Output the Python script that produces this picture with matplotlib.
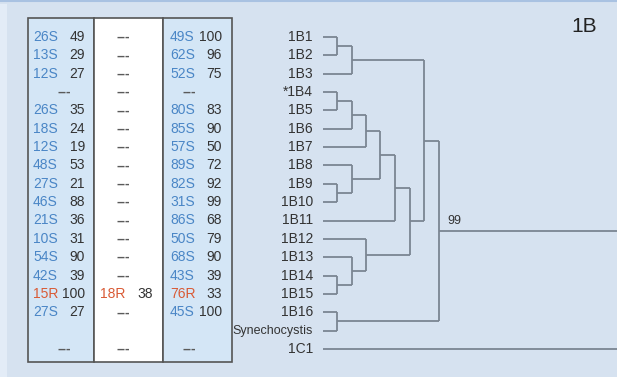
import matplotlib
matplotlib.use("Agg")
import matplotlib.pyplot as plt
from matplotlib.patches import Rectangle
from matplotlib import transforms, font_manager

plt.rcParams['font.family'] = ['Liberation Sans', 'DejaVu Sans']

# leaves of the tree, top to bottom
leaves = ['1B1', '1B2', '1B3', '*1B4', '1B5', '1B6', '1B7', '1B8', '1B9',
          '1B10', '1B11', '1B12', '1B13', '1B14', '1B15', '1B16',
          'Synechocystis', '1C1']

# merges: name -> (left, right, height); ints are leaf indices
merges = {
    'A': (0, 1, 14),
    'B': ('A', 2, 29),
    'C': (3, 4, 14),
    'D': ('C', 5, 29),
    'E': ('D', 6, 43),
    'F': (8, 9, 14),
    'G': (7, 'F', 29),
    'H': ('E', 'G', 57),
    'I': ('H', 10, 72),
    'J': (13, 14, 14),
    'K': (12, 'J', 29),
    'L': (11, 'K', 43),
    'M': ('I', 'L', 87),
    'N': ('B', 'M', 101),
    'O': (15, 16, 14),
    'P': ('N', 'O', 116),
    'Q': ('P', 17, 400),
}
root = 'Q'
support = {'P': '99'}

# table columns, one entry per leaf row
col1_labels = ['26S', '13S', '12S', '---', '26S', '18S', '12S', '48S', '27S',
               '46S', '21S', '10S', '54S', '42S', '15R', '27S', '', '---']
col1_values = [49, 29, 27, None, 35, 24, 19, 53, 21, 88, 36, 31, 90, 39, 100,
               27, None, None]
col2_labels = ['---'] * 14 + ['18R', '---', '', '---']
col2_values = [None] * 14 + [38, None, None, None]
col3_labels = ['49S', '62S', '52S', '---', '80S', '85S', '57S', '89S', '82S',
               '31S', '86S', '50S', '68S', '43S', '76R', '45S', '', '---']
col3_values = [100, 96, 75, None, 83, 90, 50, 72, 92, 99, 68, 79, 90, 39, 33,
               100, None, None]

W, H = 617, 377
bg = '#d6e2f0'
line_col = '#7b8592'
txt_col = '#333333'
blue = '#4a86c6'
red = '#d95a35'

fig = plt.figure(figsize=(W / 100, H / 100), dpi=100, facecolor=bg)

# pixel layout axes
ax_t = fig.add_axes([0, 0, 1, 1])
ax_t.set_xlim(0, W)
ax_t.set_ylim(H, 0)
ax_t.axis('off')
ax_t.add_patch(Rectangle((0, 4), 7, H, color='#e3ecf7', lw=0))
ax_t.plot([0, W], [0.5, 0.5], color='#a9c2e2', lw=1.5)

# dendrogram axes: x = height, y = leaf index
x0, y0, dy = 323, 37, 18.35
ax_d = fig.add_axes([0, 0, 1, 1])
ax_d.set_xlim(-x0, W - x0)
ax_d.set_ylim((H - y0) / dy, -y0 / dy)
ax_d.axis('off')
ax_d.patch.set_alpha(0)


def draw(node):
    if isinstance(node, int):
        return node, 0
    left, right, h = merges[node]
    yl, hl = draw(left)
    yr, hr = draw(right)
    ax_d.plot([hl, h], [yl, yl], color=line_col, lw=1.3, solid_capstyle='butt')
    ax_d.plot([hr, h], [yr, yr], color=line_col, lw=1.3, solid_capstyle='butt')
    ax_d.plot([h, h], [yl, yr], color=line_col, lw=1.3, solid_capstyle='butt')
    ym = (yl + yr) / 2
    if node in support:
        ax_d.annotate(support[node], (h, ym), xytext=(6, 3),
                      textcoords='offset points', fontsize=9, color=txt_col,
                      ha='left', va='bottom')
    return ym, h


draw(root)

try:
    font_manager.findfont(font_manager.FontProperties(family='Liberation Sans Narrow'),
                          fallback_to_default=False)
    narrow = 'Liberation Sans Narrow'
except Exception:
    narrow = None

for i, name in enumerate(leaves):
    kw = dict(fontsize=10)
    if name == 'Synechocystis':
        if narrow:
            kw['family'] = narrow
        else:
            kw['fontsize'] = 9
    ax_d.text(-10, i, name, ha='right', va='center', color=txt_col, **kw)

# table
top, bottom = 18, 362
cols = [(28, 94, '#d4e6f6'), (94, 163, 'white'), (163, 232, '#d4e6f6')]
for a, b, c in cols:
    ax_t.add_patch(Rectangle((a, top), b - a, bottom - top, facecolor=c,
                             edgecolor='#555555', lw=1.2))

tr = transforms.blended_transform_factory(ax_t.transData, ax_d.transData)
specs = [
    (col1_labels, col1_values, 33, 85, 64.5),
    (col2_labels, col2_values, 100, 153, 123.5),
    (col3_labels, col3_values, 170, 222, 189),
]
for labels, values, lx, vx, dx in specs:
    for i, (lab, val) in enumerate(zip(labels, values)):
        if lab == '---':
            ax_t.text(dx, i, '---', transform=tr, ha='center', va='center',
                      fontsize=10, fontweight='bold', color='#5a5a5a')
        elif lab:
            c = red if lab.endswith('R') else blue
            ax_t.text(lx, i, lab, transform=tr, ha='left', va='center',
                      fontsize=10, color=c)
            ax_t.text(vx, i, str(val), transform=tr, ha='right', va='center',
                      fontsize=10, color=txt_col)

ax_t.text(584, 26, '1B', ha='center', va='center', fontsize=15, color='#222222')

fig.savefig('out.png', dpi=100, facecolor=bg)
